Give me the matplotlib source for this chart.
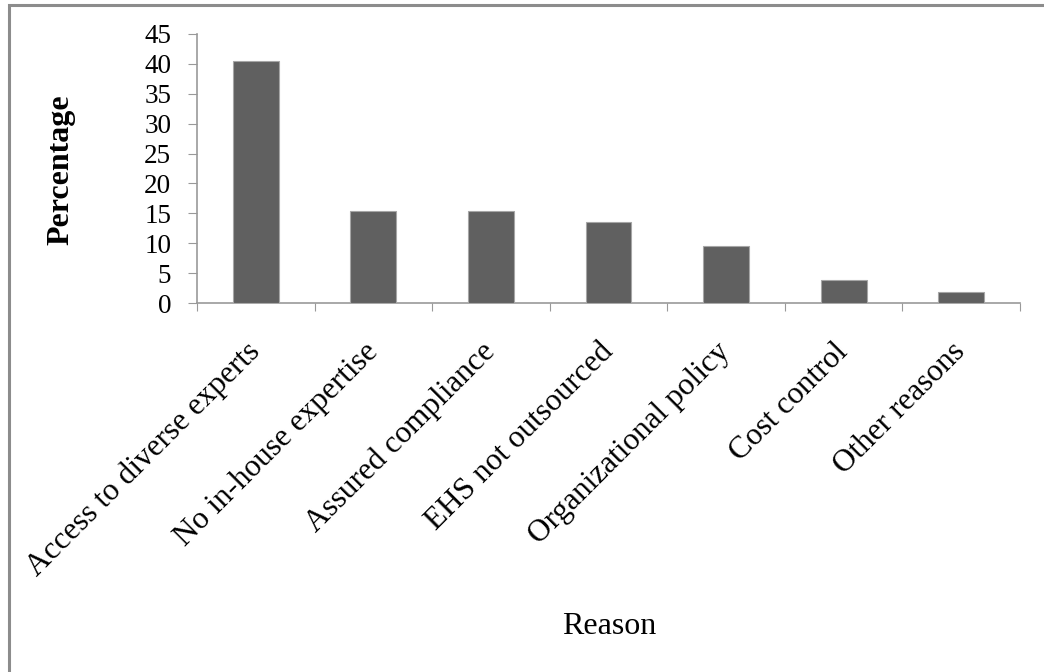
import matplotlib.pyplot as plt
import numpy as np
from matplotlib.patches import Rectangle

reasons = ["Access to diverse experts", "No in-house expertise",
           "Assured compliance", "EHS not outsourced",
           "Organizational policy", "Cost control", "Other reasons"]
percent = [40.4, 15.4, 15.4, 13.5, 9.6, 3.8, 1.9]

plt.rcParams['font.family'] = ['Liberation Serif', 'DejaVu Serif']

fig = plt.figure(figsize=(10.44, 6.72), dpi=100)
ax = fig.add_axes([0.1887, 0.549, 0.7883, 0.4005])

# outer frame (only left/top edges fall inside the canvas)
fig.patches.append(Rectangle((9 / 1044, -0.02), 1.1, (672 - 5) / 672 + 0.02,
                             transform=fig.transFigure, fill=False,
                             edgecolor="#8c8c8c", lw=2.2))

xpos = np.arange(len(reasons))
ax.bar(xpos, percent, width=0.39, color="#606060",
       edgecolor="#a6a6a6", lw=0.8, zorder=3)

ax.set_xlim(-0.5, len(reasons) - 0.5)
ax.set_ylim(0, 45)
ax.set_yticks(np.arange(0, 46, 5))
ax.tick_params(axis='y', labelsize=19.5, length=6.5, color="#999999", pad=12)

# category boundaries carry the x ticks
ax.set_xticks(np.arange(-0.5, len(reasons), 1.0))
ax.set_xticklabels([])
ax.tick_params(axis='x', length=6, color="#999999")
ax.set_xticks(xpos, minor=True)
ax.set_xticklabels(reasons, minor=True, rotation=45, ha='right',
                   va='center', rotation_mode='anchor', fontsize=22.5)
ax.tick_params(axis='x', which='minor', length=0, pad=32)

for s in ["top", "right"]:
    ax.spines[s].set_visible(False)
for s in ["left", "bottom"]:
    ax.spines[s].set_color("#999999")
    ax.spines[s].set_linewidth(1.2)

fig.text(61 / 1044, 1 - 170 / 672, "Percentage", rotation=90,
         ha='center', va='center', fontsize=23, fontweight='bold')
fig.text(609 / 1044, 1 - 627 / 672, "Reason", ha='center', va='center',
         fontsize=23)

fig.savefig("out.png", dpi=100)
